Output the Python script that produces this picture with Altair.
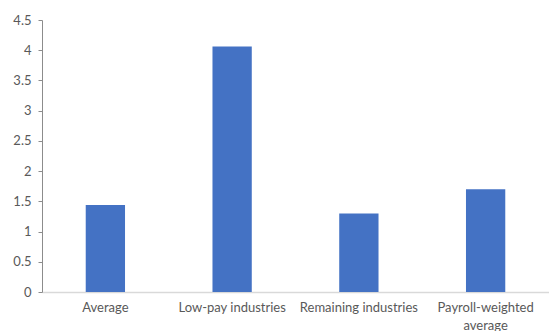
import altair as alt
import pandas as pd

categories = ["Average", "Low-pay industries", "Remaining industries", "Payroll-weighted average"]
values = [1.44, 4.06, 1.30, 1.70]

df = pd.DataFrame({"category": categories, "value": values})

label_expr = ("datum.value == 'Payroll-weighted average' ? ['Payroll-weighted', 'average'] : datum.label")

chart = alt.Chart(df).mark_bar(color="#4472C4").encode(
    x=alt.X("category:N", sort=categories, title=None,
            scale=alt.Scale(paddingInner=0.69, paddingOuter=0.345),
            axis=alt.Axis(labelAngle=0, labelExpr=label_expr, ticks=False,
                          domainColor="#d9d9d9", domainWidth=1.5,
                          labelColor="#595959", labelFont="Lato", labelFontSize=13,
                          labelPadding=9, labelLineHeight=18, labelLimit=200)),
    y=alt.Y("value:Q", title=None,
            scale=alt.Scale(domain=[0, 4.5], nice=False),
            axis=alt.Axis(values=[0, 0.5, 1, 1.5, 2, 2.5, 3, 3.5, 4, 4.5], format="~g",
                          grid=False, domainColor="#8c8c8c", tickColor="#8c8c8c",
                          tickSize=4, labelColor="#595959", labelFont="Lato",
                          labelFontSize=13, labelPadding=7)),
).properties(
    width=507, height=272,
    padding={"left": 42, "top": 20, "right": 0, "bottom": 39},
    autosize=alt.AutoSizeParams(type="none"),
).configure_view(stroke=None)

chart.save("out.html", embed_options={"renderer": "svg", "actions": False})
